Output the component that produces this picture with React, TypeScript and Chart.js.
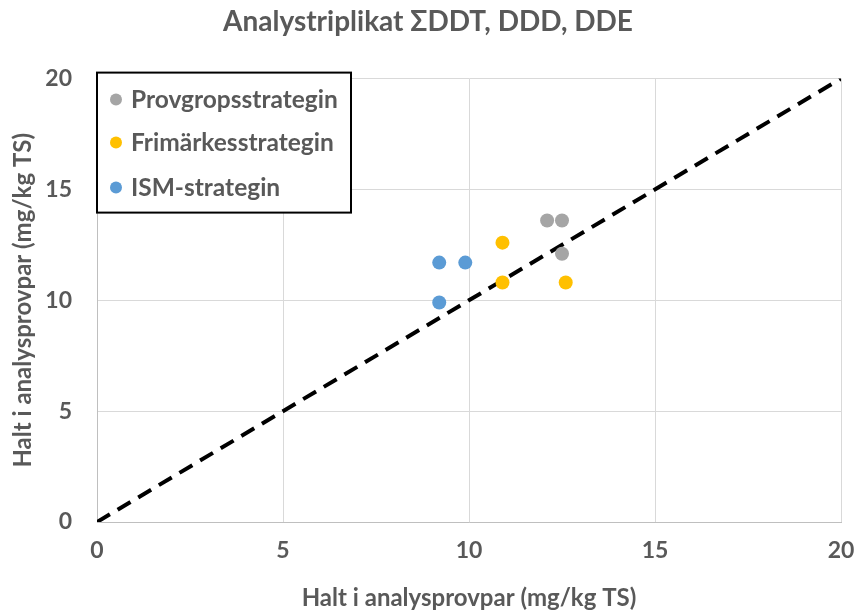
import React, { useEffect, useRef } from "react";
import { Chart, registerables } from "chart.js";

Chart.register(...registerables);

const titleText = "Analystriplikat ΣDDT, DDD, DDE";
const axisTitle = "Halt i analysprovpar (mg/kg TS)";

const seriesNames = ["Provgropsstrategin", "Frimärkesstrategin", "ISM-strategin"];
const seriesColors = ["#A5A5A5", "#FFC000", "#5B9BD5"];

const provgropX = [12.1, 12.5, 12.5];
const provgropY = [13.6, 13.6, 12.1];
const frimarkeX = [10.9, 10.9, 12.6];
const frimarkeY = [12.6, 10.8, 10.8];
const ismX = [9.2, 9.9, 9.2];
const ismY = [11.7, 11.7, 9.9];

const refLineX = [0, 20];
const refLineY = [0, 20];

const FONT = "Lato, 'Open Sans', sans-serif";
const TEXT = "#595959";

const zip = (xs: number[], ys: number[]) => xs.map((x, i) => ({ x, y: ys[i] }));

const legendBox = {
  id: "legendBox",
  afterDraw(chart: any) {
    const { ctx, chartArea } = chart;
    const left = chartArea.left;
    const top = chartArea.top - 6;
    ctx.save();
    ctx.fillStyle = "#ffffff";
    ctx.fillRect(left, top, 254, 140);
    ctx.strokeStyle = "#000000";
    ctx.lineWidth = 2;
    ctx.strokeRect(left, top, 254, 140);
    const rows = [27, 70, 115];
    chart.data.datasets.slice(0, 3).forEach((ds: any, i: number) => {
      const y = top + rows[i];
      ctx.beginPath();
      ctx.fillStyle = ds.backgroundColor;
      ctx.arc(left + 19, y, 6, 0, Math.PI * 2);
      ctx.fill();
      ctx.fillStyle = TEXT;
      ctx.font = `bold 24.5px ${FONT}`;
      ctx.textBaseline = "middle";
      ctx.textAlign = "left";
      ctx.fillText(ds.label, left + 34, y);
    });
    ctx.restore();
  },
};

export default function App() {
  const ref = useRef<HTMLCanvasElement>(null);

  useEffect(() => {
    if (!ref.current) return;
    const pointSets = [
      zip(provgropX, provgropY),
      zip(frimarkeX, frimarkeY),
      zip(ismX, ismY),
    ];
    const chart = new Chart(ref.current, {
      type: "scatter",
      data: {
        datasets: [
          ...pointSets.map((data, i) => ({
            label: seriesNames[i],
            data,
            backgroundColor: seriesColors[i],
            borderColor: seriesColors[i],
            pointRadius: 7,
            pointBorderWidth: 0,
            showLine: false,
          })),
          {
            label: "1:1",
            data: zip(refLineX, refLineY),
            showLine: true,
            borderColor: "#000000",
            borderWidth: 4,
            borderDash: [15, 9],
            pointRadius: 0,
            backgroundColor: "#000000",
            order: 1,
          },
        ],
      },
      options: {
        responsive: false,
        animation: false,
        layout: { padding: { left: 0, right: 0, top: 0, bottom: 0 } },
        plugins: {
          legend: { display: false },
          tooltip: { enabled: false },
          title: {
            display: true,
            text: titleText,
            color: TEXT,
            font: { family: FONT, size: 28, weight: "bold" },
            padding: { top: 5, bottom: 40 },
          },
        },
        scales: {
          x: {
            type: "linear",
            min: 0,
            max: 20,
            afterFit: (s: any) => {
              s.height = 92;
              s.paddingLeft = 0;
              s.paddingRight = 15;
            },
            ticks: {
              stepSize: 5,
              color: TEXT,
              padding: 15,
              font: { family: FONT, size: 23, weight: "bold" },
            },
            grid: { color: "#d9d9d9", drawTicks: false, lineWidth: 1 },
            border: { color: "#bfbfbf", width: 1 },
            title: {
              display: true,
              text: axisTitle,
              color: TEXT,
              font: { family: FONT, size: 24, weight: "bold" },
              padding: { top: 0, bottom: 1 },
            },
          },
          y: {
            type: "linear",
            min: 0,
            max: 20,
            afterFit: (s: any) => { s.width = 97; },
            ticks: {
              stepSize: 5,
              color: TEXT,
              padding: 25,
              font: { family: FONT, size: 23, weight: "bold" },
            },
            grid: { color: "#d9d9d9", drawTicks: false, lineWidth: 1 },
            border: { color: "#bfbfbf", width: 1 },
            title: {
              display: true,
              text: axisTitle,
              color: TEXT,
              font: { family: FONT, size: 24, weight: "bold" },
              padding: { top: 9, bottom: 0 },
            },
          },
        },
      },
      plugins: [legendBox],
    });
    return () => chart.destroy();
  }, []);

  return (
    <div style={{ position: "absolute", left: 0, top: 0, width: 856, height: 614, background: "#ffffff" }}>
      <canvas ref={ref} width={856} height={614} />
    </div>
  );
}
